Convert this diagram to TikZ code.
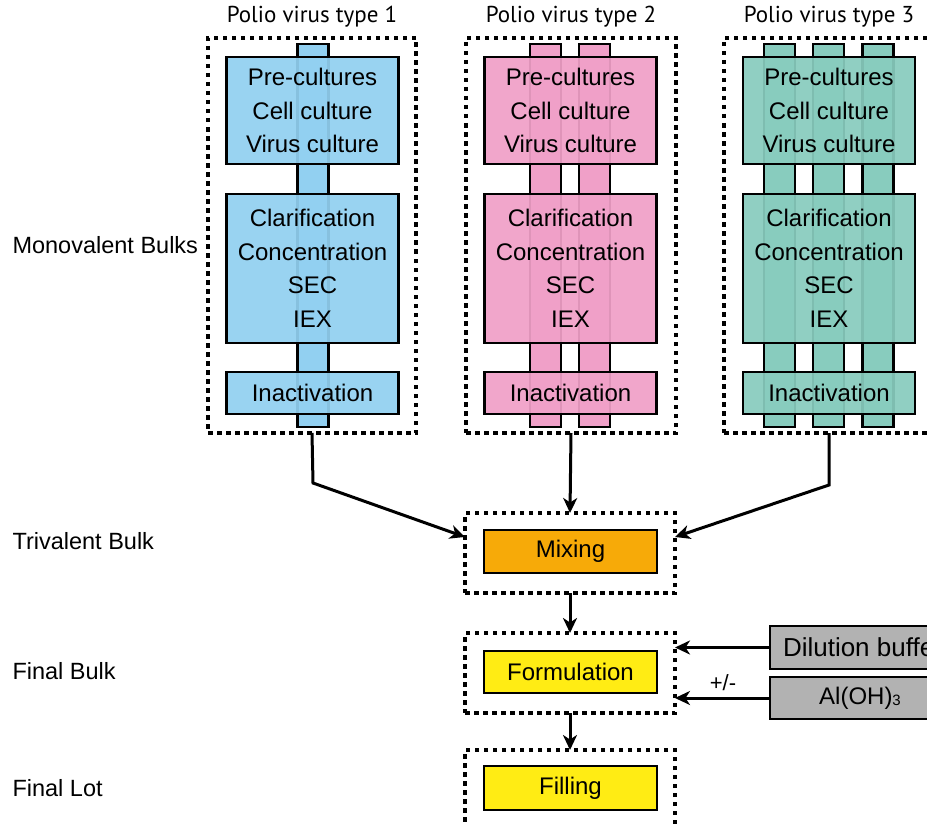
\documentclass[tikz,border=0pt]{standalone}
\usepackage{fontspec}
\setmainfont{Liberation Sans}
\newfontfamily\titlefont{PT Sans}
\usetikzlibrary{arrows.meta}

\definecolor{typeone}{RGB}{146,208,241}
\definecolor{typetwo}{RGB}{240,160,200}
\definecolor{typethree}{RGB}{136,204,190}
\definecolor{mixcol}{RGB}{247,170,8}
\definecolor{formcol}{RGB}{255,236,20}
\definecolor{addcol}{RGB}{178,178,178}

\begin{document}
\begin{tikzpicture}[x=1pt,y=-1pt,
  txt/.style={font=\fontsize{24}{33.5}\selectfont},
  stage/.style={txt, draw=black, line width=2.8pt, inner sep=0pt, outer sep=0pt,
    minimum width=172pt, align=center, fill opacity=0.93, text opacity=1, draw opacity=1},
  strip/.style={draw=black, line width=2.8pt, inner sep=0pt, outer sep=0pt,
    minimum width=31pt, minimum height=383pt},
  dotbox/.style={draw=black, line width=4pt, dash pattern=on 4.5pt off 4.5pt,
    inner sep=0pt, outer sep=0pt, minimum width=210pt, minimum height=80pt},
  stepbox/.style={txt, draw=black, line width=2.8pt, inner sep=0pt, outer sep=0pt,
    minimum width=173pt, minimum height=43pt},
  addbox/.style={draw=black, line width=2.8pt, fill=addcol, inner sep=0pt, outer sep=0pt,
    minimum height=43pt},
  conn/.style={line width=3pt, -{Stealth[length=15pt,width=14pt,inset=4.5pt]}},
  rowlabel/.style={font=\fontsize{23.5}{28}\selectfont, anchor=west},
  title/.style={font=\titlefont\fontsize{23}{28}\selectfont}
]
\clip (0,0) rectangle (927,824);
\fill[white] (0,0) rectangle (927,824);

% ---------- row labels ----------
\node[rowlabel] (lmono) at (9,245) {Monovalent Bulks};
\node[rowlabel] (ltri)  at (9,541) {Trivalent Bulk};
\node[rowlabel] (lfb)   at (9,671) {Final Bulk};
\node[rowlabel] (lfl)   at (9,788) {Final Lot};

% ---------- column titles ----------
\node[title] (t1) at (312,17) {Polio virus type 1};
\node[title] (t2) at (571,17) {Polio virus type 2};
\node[title] (t3) at (829,17) {Polio virus type 3};

% ---------- monovalent frames ----------
\node[dotbox, minimum width=208pt, minimum height=395pt] (d1) at (312,235.5) {};
\node[dotbox, minimum height=395pt] (d2) at (571,235.5) {};
\node[dotbox, minimum height=395pt] (d3) at (829,235.5) {};

% ---------- process strands ----------
\node[strip, fill=typeone] (s11) at (313,235.5) {};
\node[strip, fill=typetwo] (s21) at (545.5,235.5) {};
\node[strip, fill=typetwo] (s22) at (594.5,235.5) {};
\node[strip, fill=typethree] (s31) at (779.5,235.5) {};
\node[strip, fill=typethree] (s32) at (828.5,235.5) {};
\node[strip, fill=typethree] (s33) at (878,235.5) {};

% ---------- type 1 steps ----------
\node[stage, fill=typeone, minimum height=107pt] (p1) at (312.5,110.5) {Pre-cultures\\Cell culture\\Virus culture};
\node[stage, fill=typeone, minimum height=149pt] (c1) at (312.5,268.5) {Clarification\\Concentration\\SEC\\IEX};
\node[stage, fill=typeone, minimum height=42pt] (i1) at (312.5,393) {Inactivation};

% ---------- type 2 steps ----------
\node[stage, fill=typetwo, minimum height=107pt] (p2) at (570.5,110.5) {Pre-cultures\\Cell culture\\Virus culture};
\node[stage, fill=typetwo, minimum height=149pt] (c2) at (570.5,268.5) {Clarification\\Concentration\\SEC\\IEX};
\node[stage, fill=typetwo, minimum height=42pt] (i2) at (570.5,393) {Inactivation};

% ---------- type 3 steps ----------
\node[stage, fill=typethree, minimum height=107pt] (p3) at (829,110.5) {Pre-cultures\\Cell culture\\Virus culture};
\node[stage, fill=typethree, minimum height=149pt] (c3) at (829,268.5) {Clarification\\Concentration\\SEC\\IEX};
\node[stage, fill=typethree, minimum height=42pt] (i3) at (829,393) {Inactivation};

% ---------- downstream frames ----------
\node[dotbox] (dm) at (570,553) {};
\node[dotbox] (df) at (570,673) {};
\node[dotbox] (dl) at (570,790) {};

\node[stepbox, fill=mixcol] (mix) at (570.5,551.5) {Mixing};
\node[stepbox, fill=formcol, minimum height=42pt] (form) at (570.5,672) {Formulation};
\node[stepbox, fill=formcol, minimum height=44pt] (fill) at (570.5,788) {Filling};

% ---------- additives ----------
\node[addbox, anchor=west, inner xsep=13pt, font=\fontsize{26}{26}\selectfont] (dil) at (770,647.5) {Dilution buffer};
\node[addbox, minimum width=180pt, minimum height=42pt, font=\fontsize{24}{28}\selectfont] (al) at (860,698) {Al(OH)\raisebox{-1pt}{\fontsize{15}{15}\selectfont 3}};

% ---------- connectors ----------
\coordinate (k1) at (313,483);
\coordinate (k3) at (829,485);
\draw[conn] (d1.south) -- (k1) -- ([yshift=-24pt]dm.north west);
\draw[conn] (d2.south) -- (dm.north);
\draw[conn] (d3.south) -- (k3) -- ([yshift=-24pt]dm.north east);
\draw[conn] (dm.south) -- (df.north);
\draw[conn] (df.south) -- (dl.north);
\draw[conn] (dil.west) -- (df.east |- dil.west);
\draw[conn] (al.west) -- (df.east |- al.west);
\node[font=\fontsize{22}{24}\selectfont] (pm) at (723,683) {+/-};
\end{tikzpicture}
\end{document}
